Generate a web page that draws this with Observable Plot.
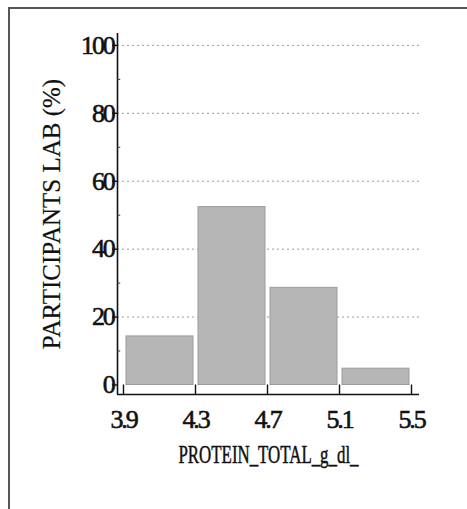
<!DOCTYPE html>
<html>
<head>
<meta charset="utf-8">
<script src="https://cdn.jsdelivr.net/npm/d3@7"></script>
<script src="https://cdn.jsdelivr.net/npm/@observablehq/plot@0.6"></script>
<style>
  html, body { margin: 0; padding: 0; background: #fff; }
  #wrap { position: relative; width: 467px; height: 509px; overflow: hidden; }
  #frame { position: absolute; left: 8px; top: 7px; width: 462px; height: 510px;
           border-left: 2px solid #555; border-top: 2px solid #555; box-sizing: border-box; pointer-events: none; }
  svg { display: block; }
  svg text { font-family: "Liberation Serif", "DejaVu Serif", serif !important; }
</style>
</head>
<body>
<div id="wrap"><div id="chart"></div><div id="frame"></div></div>
<script>
const binStart = [3.9, 4.3, 4.7, 5.1];
const binEnd = [4.3, 4.7, 5.1, 5.5];
const percent = [14.3, 52.4, 28.6, 4.8];
const xTicks = [3.9, 4.3, 4.7, 5.1, 5.5];
const yTicks = [0, 20, 40, 60, 80, 100];
const yMinorTicks = [10, 30, 50, 70, 90];
const gridTicks = [20, 40, 60, 80, 100];
const xLabel = "PROTEIN_TOTAL_g_dl_";
const yLabel = "PARTICIPANTS LAB (%)";

const bars = binStart.map((s, i) => ({x1: s, x2: binEnd[i], y: percent[i]}));
const xDomain = [3.8667, 5.5444];
const yDomain = [-2.8, 103.5];
const font = "Liberation Serif";

const chart = Plot.plot({
  width: 467,
  height: 509,
  marginLeft: 117,
  marginRight: 48,
  marginTop: 33,
  marginBottom: 115,
  style: {fontFamily: font, color: "#111", background: "#fff"},
  x: {domain: xDomain},
  y: {domain: yDomain},
  marks: [
    Plot.ruleY(gridTicks, {stroke: "#9a9a9a", strokeWidth: 1, strokeDasharray: "2,3"}),
    Plot.rectY(bars, {x1: "x1", x2: "x2", y: "y", fill: "#b6b6b6", stroke: "#9c9c9c", strokeWidth: 1, insetLeft: 3, insetRight: 2}),
    Plot.ruleX([xDomain[0]], {y1: yDomain[0], y2: yDomain[1], stroke: "#111", strokeWidth: 1.6}),
    Plot.ruleY([yDomain[0]], {stroke: "#111", strokeWidth: 1.6}),
    Plot.ruleX(xTicks, {x: d => d, y1: yDomain[0], y2: 0, stroke: "#111", strokeWidth: 1.4}),
    Plot.ruleY(yMinorTicks, {y: d => d, x1: xDomain[0], x2: xDomain[0] + 0.018, stroke: "#333", strokeWidth: 1}),
    Plot.axisY(yTicks, {tickSize: 5, tickPadding: -1, fontSize: 26, fontFamily: font, label: null, stroke: "#111", strokeWidth: 1.4, className: "ytick"}),
    Plot.axisX(xTicks, {tickSize: 0, tickPadding: 15, fontSize: 26, fontFamily: font, label: null, className: "xtick"}),
    Plot.text([xLabel], {frameAnchor: "bottom", dy: 68, fontSize: 26, fontFamily: font, fill: "#111", className: "xlab"}),
    Plot.text([yLabel], {frameAnchor: "left", textAnchor: "middle", rotate: -90, dx: -66, fontSize: 25, fontFamily: font, fill: "#111", className: "ylab"})
  ]
});
document.getElementById("chart").appendChild(chart);

d3.select(chart).selectAll(".ytick text, .xtick text")
  .style("letter-spacing", "-2.2px").attr("stroke", "#111").attr("stroke-width", 0.6);
d3.select(chart).selectAll(".xlab text")
  .attr("textLength", 180).attr("lengthAdjust", "spacingAndGlyphs")
  .attr("stroke", "#111").attr("stroke-width", 0.5);
d3.select(chart).selectAll(".ylab text").attr("stroke", "#111").attr("stroke-width", 0.2);
</script>
</body>
</html>
